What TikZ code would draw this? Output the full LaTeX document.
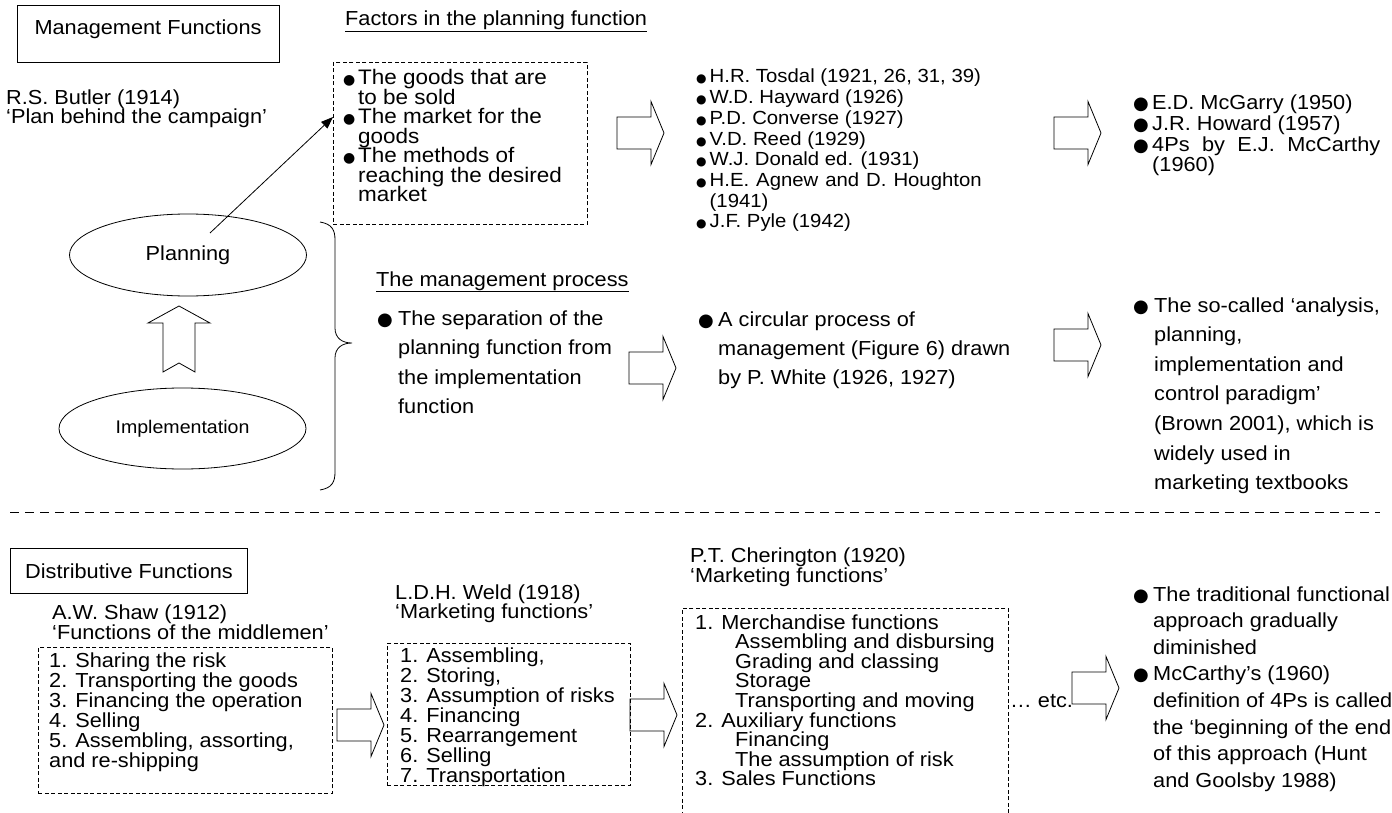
\documentclass[tikz,border=0pt]{standalone}
\usepackage{fontspec}
\setmainfont{Liberation Sans}[FakeStretch=1.07]
\newfontfamily\bulletfont{DejaVu Sans}
\usetikzlibrary{shapes.geometric,arrows.meta,calc}

% bullet glyph of a given size in a box of a given width
\newcommand\bul[2]{\makebox[#2][l]{\hspace*{-1.2pt}\fontsize{#1}{#1}\bulletfont ●}}

\tikzset{
  lw/.style={line width=0.8pt},
  solidbox/.style={draw, lw, inner sep=0pt, anchor=north west},
  dashbox/.style={draw, lw, dash pattern=on 4pt off 2.5pt, inner sep=0pt, anchor=north west},
  % multi-line texts are placed by the baseline of their last line
  lst/.style 2 args={inner sep=0pt, anchor=base west, align=left, font=\fontsize{#1}{#2}\selectfont},
  title/.style={inner sep=0pt, anchor=base, font=\fontsize{20.3}{22}\selectfont},
  oval/.style={draw, lw, ellipse, inner sep=0pt},
  thinarrow/.style={lw, -{Triangle[length=12pt,width=9pt]}},
  rblock/.pic={\draw[lw, line join=miter] (0,-16) -- (34,-16) -- (34,-31.5) -- (47,0) -- (34,31.5) -- (34,16) -- (0,16) -- cycle;}
}

\begin{document}
\lineskiplimit=-100pt
\begin{tikzpicture}[x=1pt,y=-1pt]
\useasboundingbox (0,0) rectangle (1392,813);
\clip (0,0) rectangle (1392,813);

% ---------------- management functions ----------------
\node[solidbox, minimum width=262pt, minimum height=57pt] (mfbox) at (17,5) {};
\node[title] (mftext) at (148,35) {Management Functions};

\node[lst={20.3}{22}] (hdrA) at (345,26) {Factors in the planning function};
\draw[lw] ([yshift=-5pt]hdrA.base west) -- ([yshift=-5pt]hdrA.base east);

\node[lst={20.3}{19}] (butler) at (6,124) {R.S. Butler (1914)\\‘Plan behind the campaign’};

\node[dashbox, minimum width=254pt, minimum height=162pt] (factbox) at (333,62) {};
\node[lst={21}{19.5}] (factlist) at (344,202) {%
\bul{14}{14pt}The goods that are\\
\hspace*{14pt}to be sold\\
\bul{14}{14pt}The market for the\\
\hspace*{14pt}goods\\
\bul{14}{14pt}The methods of\\
\hspace*{14pt}reaching the desired\\
\hspace*{14pt}market};

\node[lst={19}{20.7}] (tosdal) at (697,227.9) {%
\bul{12}{12.5pt}H.R. Tosdal (1921, 26, 31, 39)\\
\bul{12}{12.5pt}W.D. Hayward (1926)\\
\bul{12}{12.5pt}P.D. Converse (1927)\\
\bul{12}{12.5pt}V.D. Reed (1929)\\
\bul{12}{12.5pt}W.J. Donald ed. (1931)\\
\bul{12}{12.5pt}\makebox[272pt][s]{H.E. Agnew and D. Houghton}\\
\hspace*{12.5pt}(1941)\\
\bul{12}{12.5pt}J.F. Pyle (1942)};

\node[lst={20.3}{20.7}] (mcgarry) at (1134,172) {%
\bul{18}{18pt}E.D. McGarry (1950)\\
\bul{18}{18pt}J.R. Howard (1957)\\
\bul{18}{18pt}\makebox[228pt][s]{4Ps by E.J. McCarthy}\\
\hspace*{18pt}(1960)};

\pic at (617,133) {rblock};
\pic at (1054,133) {rblock};

% planning / implementation
\node[oval, minimum width=237pt, minimum height=82pt, font=\fontsize{20.3}{22}\selectfont] (plan) at (188,255) {Planning};
\node[oval, minimum width=247pt, minimum height=81pt, font=\fontsize{18.3}{20}\selectfont] (impl) at (182.5,428.5) {Implementation};
\coordinate (pstart) at (210,233);
\coordinate (ptip) at (333,117);
\draw[thinarrow] (pstart) -- (ptip);

\draw[lw, line join=miter] (179,306) -- (210,323) -- (195,323) -- (195,372) -- (179,363)
  -- (163,372) -- (163,323) -- (148,323) -- cycle;

% brace
\draw[lw] (320,222) .. controls (332,224) and (335,230) .. (335,240) -- (335,328)
  .. controls (335,338) and (342,343) .. (352,343)
  .. controls (342,343) and (335,348) .. (335,358) -- (335,472)
  .. controls (335,482) and (332,488) .. (320,490);

\node[lst={20.3}{22}] (hdrB) at (376,286) {The management process};
\draw[lw] ([yshift=-5pt]hdrB.base west) -- ([yshift=-5pt]hdrB.base east);

\node[lst={20.3}{29.5}] (seplist) at (378,413.5) {%
\bul{18}{20pt}The separation of the\\
\hspace*{20pt}planning function from\\
\hspace*{20pt}the implementation\\
\hspace*{20pt}function};

\pic at (629,368) {rblock};

\node[lst={20.3}{29}] (circlist) at (699,384) {%
\bul{18}{19pt}A circular process of\\
\hspace*{19pt}management (Figure 6) drawn\\
\hspace*{19pt}by P. White (1926, 1927)};

\pic at (1054,345) {rblock};

\node[lst={20.3}{29.6}] (socalled) at (1134,489.6) {%
\bul{18}{20pt}The so-called ‘analysis,\\
\hspace*{20pt}planning,\\
\hspace*{20pt}implementation and\\
\hspace*{20pt}control paradigm’\\
\hspace*{20pt}(Brown 2001), which is\\
\hspace*{20pt}widely used in\\
\hspace*{20pt}marketing textbooks};

% separator
\coordinate (sepL) at (10,512);
\coordinate (sepR) at (1380,512);
\draw[lw, dash pattern=on 9pt off 6pt] (sepL) -- (sepR);

% ---------------- distributive functions ----------------
\node[solidbox, minimum width=237pt, minimum height=45pt] (distbox) at (10,548) {};
\node[title] (disttext) at (129,578) {Distributive Functions};

\node[lst={20.3}{20}] (shaw) at (52,639) {A.W. Shaw (1912)\\‘Functions of the middlemen’};
\node[dashbox, minimum width=294pt, minimum height=146pt] (shawbox) at (38,647) {};
\node[lst={20.3}{20}] (shawlist) at (49,767) {%
1. Sharing the risk\\
2. Transporting the goods\\
3. Financing the operation\\
4. Selling\\
5. Assembling, assorting,\\
and re-shipping};

\pic at (337,725) {rblock};

\node[lst={20.3}{19}] (weld) at (395,618) {L.D.H. Weld (1918)\\‘Marketing functions’};
\node[dashbox, minimum width=243pt, minimum height=142pt] (weldbox) at (387,643) {};
\node[lst={20.3}{20}] (weldlist) at (400,782) {%
1. Assembling,\\
2. Storing,\\
3. Assumption of risks\\
4. Financing\\
5. Rearrangement\\
6. Selling\\
7. Transportation};

\pic at (630,715) {rblock};

\node[lst={20.3}{20}] (cher) at (690,582) {P.T. Cherington (1920)\\‘Marketing functions’};
\node[dashbox, minimum width=326pt, minimum height=230pt] (cherbox) at (682,608) {};
\node[lst={20.3}{19.6}] (cherlist) at (695,785.8) {%
1. Merchandise functions\\
\hspace*{40pt}Assembling and disbursing\\
\hspace*{40pt}Grading and classing\\
\hspace*{40pt}Storage\\
\hspace*{40pt}Transporting and moving\\
2. Auxiliary functions\\
\hspace*{40pt}Financing\\
\hspace*{40pt}The assumption of risk\\
3. Sales Functions};

\node[lst={20.3}{22}] (etc) at (1010,707) {… etc.};
\pic at (1072,688) {rblock};

\node[lst={20.3}{26.6}] (endlist) at (1134,787.2) {%
\bul{18}{19pt}The traditional functional\\
\hspace*{19pt}approach gradually\\
\hspace*{19pt}diminished\\
\bul{18}{19pt}McCarthy’s (1960)\\
\hspace*{19pt}definition of 4Ps is called\\
\hspace*{19pt}the ‘beginning of the end’\\
\hspace*{19pt}of this approach (Hunt\\
\hspace*{19pt}and Goolsby 1988)};

\end{tikzpicture}
\end{document}
